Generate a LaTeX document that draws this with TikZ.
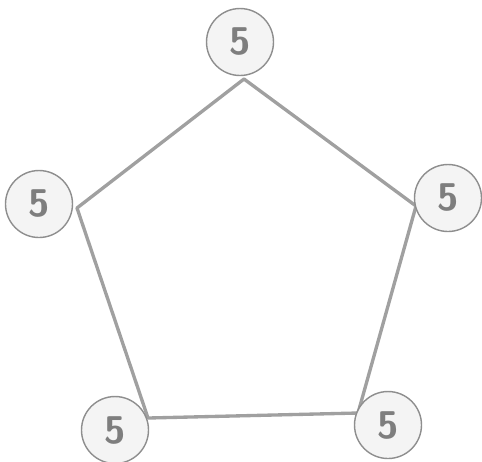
\documentclass[tikz,border=0pt]{standalone}
\usepackage{tikz}
\definecolor{edgegray}{HTML}{A0A0A0}
\definecolor{ringgray}{HTML}{8E8E8E}
\definecolor{fillgray}{HTML}{F4F4F4}
\definecolor{numgray}{HTML}{7E7E7E}
\tikzset{
    ball/.style={circle,draw=ringgray,fill=fillgray,line width=0.8pt,minimum size=1.34cm,inner sep=0pt,text=numgray,font=\sffamily\bfseries\fontsize{22}{22}\selectfont},
    side/.style={draw=edgegray,line width=1.9pt,line join=round}
}
\begin{document}
\begin{tikzpicture}[x=0.02cm,y=-0.02cm]
    \useasboundingbox (0,0) rectangle (482,461);
    \coordinate (T) at (244,79);
    \coordinate (L) at (77,208);
    \coordinate (R) at (416,206);
    \coordinate (BL) at (148,418);
    \coordinate (BR) at (358,413);
    \draw[side] (T) -- (R) -- (BR) -- (BL) -- (L) -- cycle;
    \node[ball] (top) at (240,42) {5};
    \node[ball] (left) at (39,204) {5};
    \node[ball] (right) at (448,198) {5};
    \node[ball] (botl) at (115,430) {5};
    \node[ball] (botr) at (388,425) {5};
\end{tikzpicture}
\end{document}
